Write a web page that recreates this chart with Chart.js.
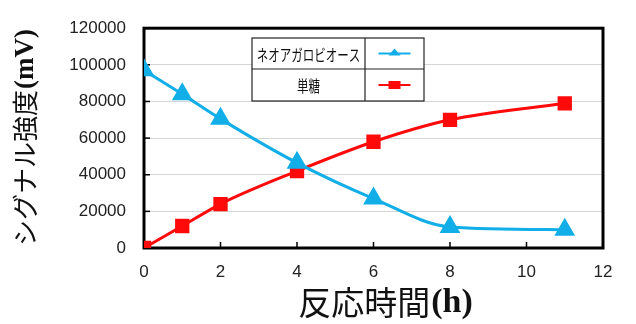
<!DOCTYPE html>
<html>
<head>
<meta charset="utf-8">
<title>反応時間</title>
<script src="https://cdn.jsdelivr.net/npm/chart.js"></script>
<style>
  html, body { margin: 0; padding: 0; background: #fff; }
  #wrap { width: 636px; height: 324px; }
</style>
</head>
<body>
<div id="wrap"><canvas id="chart" width="636" height="324"></canvas></div>
<script>
const hours = [0, 1, 2, 4, 6, 8, 11];
const neoagarobiose = [97000, 84000, 70500, 46500, 27000, 11500, 10000];
const monosaccharide = [0, 12000, 24000, 42000, 58000, 70000, 79000];
const seriesNames = ['ネオアガロビオース', '単糖'];
const seriesColors = ['#12aee8', '#ff0a0a'];
const xTitle = ['反応時間', '(h)'];
const yTitle = ['シグナル強度', '(mV)'];

const toPoints = (vals) => hours.map((h, i) => ({ x: h, y: vals[i] }));

// two-part title: CJK text followed by a bold serif unit, centred on (0,0)
function drawTitle(ctx, parts, size) {
  const f1 = size + 'px "Noto Sans CJK JP"';
  const f2 = 'bold ' + (size + 1) + 'px "Liberation Serif"';
  ctx.font = f1; const w1 = ctx.measureText(parts[0]).width;
  ctx.font = f2; const w2 = ctx.measureText(parts[1]).width;
  let x = -(w1 + w2) / 2;
  ctx.textAlign = 'left';
  ctx.textBaseline = 'middle';
  ctx.font = f1; ctx.fillText(parts[0], x, 0);
  ctx.font = f2; ctx.fillText(parts[1], x + w1 + 1, 1);
}

// framed plot box, inward ticks, titles and the table-style legend
const decor = {
  id: 'decor',
  beforeDatasetsDraw(chart) {
    const { ctx, chartArea: a, scales } = chart;
    ctx.save();
    ctx.strokeStyle = '#000';
    ctx.lineWidth = 1.5;
    scales.y.ticks.forEach(t => {
      const y = scales.y.getPixelForValue(t.value);
      ctx.beginPath(); ctx.moveTo(a.left, y); ctx.lineTo(a.left + 6, y); ctx.stroke();
    });
    scales.x.ticks.forEach(t => {
      const x = scales.x.getPixelForValue(t.value);
      ctx.beginPath(); ctx.moveTo(x, a.bottom); ctx.lineTo(x, a.bottom - 6); ctx.stroke();
    });
    ctx.lineWidth = 3;
    ctx.strokeRect(a.left, a.top, a.right - a.left, a.bottom - a.top);
    ctx.restore();
  },
  afterDraw(chart) {
    const { ctx } = chart;
    ctx.save();
    ctx.fillStyle = '#111';
    ctx.translate(385, 302);
    drawTitle(ctx, xTitle, 33);
    ctx.restore();
    ctx.save();
    ctx.fillStyle = '#111';
    ctx.translate(25, 138);
    ctx.rotate(-Math.PI / 2);
    drawTitle(ctx, yTitle, 26);
    ctx.restore();

    // legend table
    ctx.save();
    const L = 252, R = 424, T = 38, B = 101, mid = 365, rowY = 69;
    ctx.fillStyle = '#fff';
    ctx.fillRect(L, T, R - L, B - T);
    ctx.strokeStyle = '#222';
    ctx.lineWidth = 1.2;
    ctx.strokeRect(L, T, R - L, B - T);
    ctx.beginPath();
    ctx.moveTo(L, rowY); ctx.lineTo(R, rowY);
    ctx.moveTo(mid, T); ctx.lineTo(mid, B);
    ctx.stroke();
    const rows = [(T + rowY) / 2, (rowY + B) / 2];
    seriesNames.forEach((name, i) => {
      ctx.save();
      ctx.translate((L + mid) / 2, rows[i] + 1);
      ctx.scale(0.72, 1);
      ctx.fillStyle = '#111';
      ctx.font = '16px "Noto Sans CJK JP"';
      ctx.textAlign = 'center';
      ctx.textBaseline = 'middle';
      ctx.fillText(name, 0, 0);
      ctx.restore();
      const cx = (mid + R) / 2, cy = rows[i];
      ctx.strokeStyle = seriesColors[i];
      ctx.lineWidth = 2;
      ctx.beginPath(); ctx.moveTo(cx - 16, cy); ctx.lineTo(cx + 16, cy); ctx.stroke();
      ctx.fillStyle = seriesColors[i];
      if (i === 0) {
        ctx.beginPath();
        ctx.moveTo(cx, cy - 5); ctx.lineTo(cx + 6, cy + 2); ctx.lineTo(cx - 6, cy + 2);
        ctx.closePath(); ctx.fill();
      } else {
        ctx.fillRect(cx - 6, cy - 4, 12, 8);
      }
    });
    ctx.restore();
  }
};

new Chart(document.getElementById('chart'), {
  type: 'line',
  data: {
    datasets: [
      {
        label: seriesNames[0],
        data: toPoints(neoagarobiose),
        borderColor: seriesColors[0],
        backgroundColor: seriesColors[0],
        borderWidth: 3,
        pointStyle: 'triangle',
        pointRadius: 9,
        cubicInterpolationMode: 'monotone'
      },
      {
        label: seriesNames[1],
        data: toPoints(monosaccharide),
        borderColor: seriesColors[1],
        backgroundColor: seriesColors[1],
        borderWidth: 3,
        pointStyle: 'rect',
        pointRadius: 8,
        cubicInterpolationMode: 'monotone'
      }
    ]
  },
  options: {
    responsive: false,
    animation: false,
    layout: { padding: { left: 0, right: 33, top: 24, bottom: 0 } },
    plugins: { legend: { display: false }, tooltip: { enabled: false } },
    scales: {
      x: {
        type: 'linear',
        min: 0, max: 12,
        ticks: { stepSize: 2, color: '#222', padding: 14, font: { family: 'Liberation Sans', size: 17 } },
        grid: { display: false, drawTicks: false },
        border: { display: false },
        afterFit(s) { s.height = 76; }
      },
      y: {
        min: 0, max: 120000,
        ticks: {
          stepSize: 20000, color: '#222', padding: 18,
          font: { family: 'Liberation Sans', size: 17 },
          callback: (v) => String(v)
        },
        grid: { color: '#d4d4d4', lineWidth: 1, drawTicks: false },
        border: { display: false },
        afterFit(s) { s.width = 144; }
      }
    }
  },
  plugins: [decor]
});
</script>
</body>
</html>
